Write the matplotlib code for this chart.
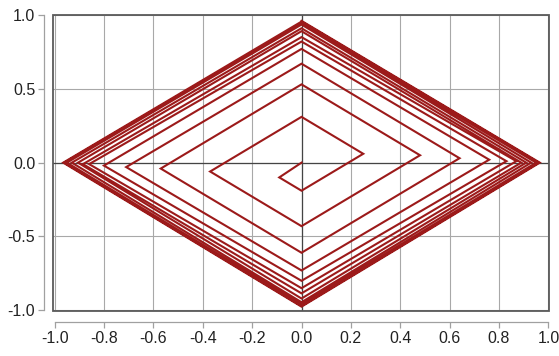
import matplotlib.pyplot as plt
from matplotlib.patches import Rectangle

# vertices of the diamond spiral, one entry per turn (left, bottom, right, top)
left_x = [-0.09, -0.37, -0.57, -0.71, -0.80, -0.86, -0.885, -0.905, -0.93, -0.95, -0.96, -0.965]
left_y = [-0.10, -0.06, -0.04, -0.03, -0.02, -0.01, -0.01, 0.0, 0.0, 0.0, 0.0, 0.0]
bottom_y = [-0.19, -0.43, -0.61, -0.73, -0.80, -0.85, -0.885, -0.92, -0.945, -0.96, -0.97, -0.975]
right_x = [0.25, 0.48, 0.64, 0.76, 0.83, 0.87, 0.89, 0.91, 0.93, 0.95, 0.96, 0.965]
right_y = [0.06, 0.05, 0.03, 0.02, 0.01, 0.01, 0.0, 0.0, 0.0, 0.0, 0.0, 0.0]
top_y = [0.31, 0.53, 0.67, 0.77, 0.82, 0.85, 0.89, 0.91, 0.935, 0.945, 0.955, 0.96]

x_ticks = [-1.0, -0.8, -0.6, -0.4, -0.2, 0.0, 0.2, 0.4, 0.6, 0.8, 1.0]
y_ticks = [-1.0, -0.5, 0.0, 0.5, 1.0]

plt.rcParams["font.family"] = ["Liberation Sans Narrow", "Liberation Sans", "DejaVu Sans"]

xs, ys = [0.0], [0.0]
for i in range(len(left_x)):
    xs += [left_x[i], 0.0, right_x[i], 0.0]
    ys += [left_y[i], bottom_y[i], right_y[i], top_y[i]]

fig = plt.figure(figsize=(5.59, 3.56), dpi=100)
ax = fig.add_axes([0.0954, 0.127, 0.8866, 0.831])

for x in x_ticks:
    ax.axvline(x, color="#a8a8a8", lw=0.8, zorder=1)
for y in y_ticks:
    ax.axhline(y, color="#a8a8a8", lw=0.8, zorder=1)
ax.axhline(0, color="#444444", lw=0.9, zorder=2)
ax.axvline(0, color="#444444", lw=0.9, zorder=2)

ax.plot(xs, ys, color="#9c1a1a", lw=1.5, solid_joinstyle="miter", zorder=3)

ax.set_xlim(-1.005, 1.002)
ax.set_ylim(-1.003, 1.0)

ax.add_patch(Rectangle((0, 0), 1, 1, transform=ax.transAxes, fill=False,
                       edgecolor="#5a5a5a", lw=1.3, clip_on=False, zorder=4))

for side in ["top", "right"]:
    ax.spines[side].set_visible(False)
ax.spines["left"].set_position(("outward", 6.5))
ax.spines["bottom"].set_position(("outward", 8))
ax.spines["left"].set_bounds(-1, 1)
ax.spines["bottom"].set_bounds(-1, 1)
for side in ["left", "bottom"]:
    ax.spines[side].set_color("#a0a0a0")
    ax.spines[side].set_linewidth(0.9)

ax.set_xticks(x_ticks)
ax.set_yticks(y_ticks)
ax.set_xticklabels([f"{v:.1f}" for v in x_ticks])
ax.set_yticklabels([f"{v:.1f}" for v in y_ticks])
ax.tick_params(length=4.5, width=0.9, color="#a0a0a0", labelsize=11.5,
               labelcolor="#222222", pad=2)

fig.savefig("out.png", dpi=100)
